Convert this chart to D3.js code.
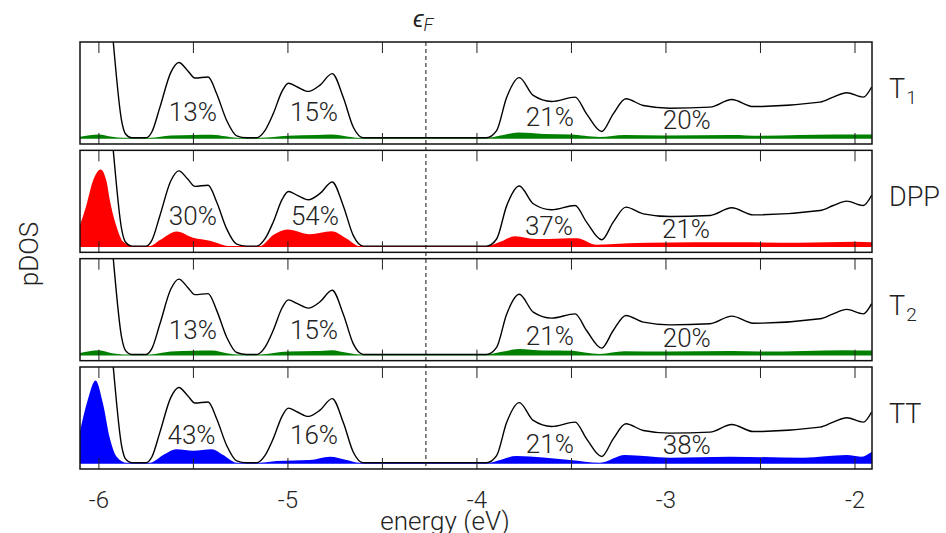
<!DOCTYPE html>
<html>
<head>
<meta charset="utf-8">
<script src="https://cdn.jsdelivr.net/npm/d3@7"></script>
<style>
  body { margin: 0; background: #fff; }
  text { font-family: Roboto, "Open Sans", sans-serif; font-weight: 300; fill: #222; }
</style>
</head>
<body>
<div id="container"></div>
<script>
const width = 946;
const height = 533;

// total DOS (same black curve in every panel)  [energy eV, value]
const totalDos = [
    [-6.10, 3.0], [-6.00, 2.5], [-5.95, 1.6], [-5.924, 1.0], [-5.88, 0.18], [-5.859, 0.04],
    [-5.827, 0.0], [-5.75, 0.0], [-5.72, 0.06], [-5.677, 0.32], [-5.62, 0.68], [-5.577, 0.786],
    [-5.53, 0.70], [-5.492, 0.624], [-5.422, 0.635], [-5.377, 0.46], [-5.324, 0.18], [-5.271, 0.02],
    [-5.219, 0.0], [-5.166, 0.0], [-5.12, 0.08], [-5.078, 0.25], [-5.03, 0.49], [-4.998, 0.57],
    [-4.95, 0.53], [-4.892, 0.484], [-4.83, 0.55], [-4.766, 0.67], [-4.707, 0.42], [-4.654, 0.11],
    [-4.601, 0.0], [-3.949, 0.0], [-3.896, 0.074], [-3.843, 0.42], [-3.776, 0.628], [-3.702, 0.442],
    [-3.605, 0.379], [-3.481, 0.424], [-3.42, 0.25], [-3.34, 0.066], [-3.279, 0.25], [-3.212, 0.407],
    [-3.12, 0.337], [-2.979, 0.309], [-2.767, 0.32], [-2.652, 0.40], [-2.538, 0.326], [-2.185, 0.372],
    [-2.115, 0.424], [-2.044, 0.47], [-1.956, 0.424], [-1.912, 0.53]
];

const pdosT1 = [
    [-6.1, 0.01], [-6.0, 0.035], [-5.93, 0.01], [-5.87, 0.0], [-5.73, 0.0], [-5.62, 0.025],
    [-5.5, 0.03], [-5.4, 0.032], [-5.33, 0.015], [-5.27, 0.0], [-5.15, 0.0], [-5.0, 0.022],
    [-4.85, 0.028], [-4.77, 0.035], [-4.68, 0.012], [-4.62, 0.0], [-3.95, 0.0], [-3.86, 0.03],
    [-3.78, 0.055], [-3.65, 0.04], [-3.5, 0.035], [-3.43, 0.02], [-3.35, 0.008], [-3.22, 0.03],
    [-3.0, 0.025], [-2.65, 0.03], [-2.5, 0.022], [-2.1, 0.035], [-1.91, 0.035]
];
const pdosDPP = [
    [-6.1, 0.22], [-6.07, 0.4], [-6.03, 0.69], [-5.991, 0.80], [-5.96, 0.68], [-5.942, 0.479],
    [-5.906, 0.2], [-5.871, 0.045], [-5.82, 0.0], [-5.73, 0.0], [-5.677, 0.0625], [-5.589, 0.153],
    [-5.501, 0.087], [-5.413, 0.056], [-5.307, 0.0], [-5.148, 0.0], [-5.078, 0.115], [-5.002, 0.174],
    [-4.884, 0.125], [-4.769, 0.156], [-4.69, 0.08], [-4.62, 0.0], [-3.95, 0.0], [-3.87, 0.05],
    [-3.8, 0.104], [-3.683, 0.073], [-3.55, 0.08], [-3.472, 0.083], [-3.367, 0.014], [-3.296, 0.02],
    [-3.1, 0.035], [-2.6, 0.04], [-2.3, 0.035], [-2.0, 0.045], [-1.91, 0.04]
];
const pdosT2 = [
    [-6.1, 0.015], [-6.0, 0.045], [-5.93, 0.012], [-5.87, 0.0], [-5.73, 0.0], [-5.62, 0.03],
    [-5.5, 0.038], [-5.4, 0.04], [-5.33, 0.015], [-5.27, 0.0], [-5.15, 0.0], [-5.0, 0.03],
    [-4.85, 0.035], [-4.77, 0.045], [-4.68, 0.015], [-4.62, 0.0], [-3.95, 0.0], [-3.86, 0.03],
    [-3.78, 0.056], [-3.65, 0.04], [-3.5, 0.038], [-3.43, 0.02], [-3.35, 0.005], [-3.22, 0.033],
    [-3.0, 0.03], [-2.65, 0.035], [-2.5, 0.03], [-2.05, 0.045], [-1.91, 0.04]
];
const pdosTT = [
    [-6.1, 0.33], [-6.06, 0.65], [-6.018, 0.86], [-5.977, 0.607], [-5.942, 0.256], [-5.906, 0.063],
    [-5.853, 0.0], [-5.73, 0.0], [-5.66, 0.08], [-5.589, 0.14], [-5.501, 0.126], [-5.404, 0.14],
    [-5.342, 0.08], [-5.271, 0.0], [-5.15, 0.0], [-5.06, 0.018], [-4.884, 0.028], [-4.778, 0.063],
    [-4.69, 0.028], [-4.62, 0.0], [-3.95, 0.0], [-3.79, 0.07], [-3.508, 0.028], [-3.349, 0.0],
    [-3.217, 0.08], [-2.979, 0.053], [-2.662, 0.063], [-2.273, 0.053], [-2.044, 0.08], [-1.97, 0.063],
    [-1.91, 0.116]
];

const fragments = ['T1', 'DPP', 'T2', 'TT'];
const fragmentColors = ['#008000', '#ff0000', '#008000', '#0000ff'];
const fragmentData = [pdosT1, pdosDPP, pdosT2, pdosTT];

// percentage labels: [energy of centre, value of baseline, text]
const pctLabels = [
    [[-5.503, 0.18, '13%'], [-4.862, 0.18, '15%'], [-3.614, 0.12, '21%'], [-2.89, 0.087, '20%']],
    [[-5.503, 0.22, '30%'], [-4.857, 0.22, '54%'], [-3.619, 0.116, '37%'], [-2.894, 0.087, '21%']],
    [[-5.503, 0.158, '13%'], [-4.862, 0.158, '15%'], [-3.614, 0.098, '21%'], [-2.89, 0.08, '20%']],
    [[-5.51, 0.2, '43%'], [-4.862, 0.2, '16%'], [-3.614, 0.105, '21%'], [-2.89, 0.088, '38%']]
];

const fermiLevel = -4.27;
const xTicks = [-6, -5.5, -5, -4.5, -4, -3.5, -3, -2.5, -2];
const xTickLabels = [-6, -5, -4, -3, -2];

const svg = d3.select('#container').append('svg')
    .attr('width', width)
    .attr('height', height);

const x = d3.scaleLinear().domain([-6.1, -1.91]).range([80, 872]);

const panelTop0 = 42;
const panelStep = 108.33;
const panelH = 102;

const defs = svg.append('defs');

fragments.forEach((name, i) => {
    const top = panelTop0 + i * panelStep;
    const y = d3.scaleLinear().domain([-0.065, 1.0]).range([top + panelH, top]);

    defs.append('clipPath').attr('id', 'clip' + i)
        .append('rect')
        .attr('x', x.range()[0]).attr('y', top)
        .attr('width', x.range()[1] - x.range()[0]).attr('height', panelH);

    const g = svg.append('g');
    const plot = g.append('g').attr('clip-path', 'url(#clip' + i + ')');

    const area = d3.area()
        .x(d => x(d[0]))
        .y0(y(0) + 1)
        .y1(d => y(d[1]))
        .curve(d3.curveMonotoneX);

    plot.append('path')
        .datum(fragmentData[i])
        .attr('d', area)
        .attr('fill', fragmentColors[i]);

    const line = d3.line()
        .x(d => x(d[0]))
        .y(d => y(d[1]))
        .curve(d3.curveMonotoneX);

    plot.append('path')
        .datum(totalDos)
        .attr('d', line)
        .attr('fill', 'none')
        .attr('stroke', '#000')
        .attr('stroke-width', 1.4);

    // ticks inside top and bottom
    g.selectAll('.tt')
        .data(xTicks)
        .join('line')
        .attr('x1', d => x(d)).attr('x2', d => x(d))
        .attr('y1', top).attr('y2', top + 11)
        .attr('stroke', '#222').attr('stroke-width', 1);
    g.selectAll('.tb')
        .data(xTicks)
        .join('line')
        .attr('x1', d => x(d)).attr('x2', d => x(d))
        .attr('y1', top + panelH).attr('y2', top + panelH - 11)
        .attr('stroke', '#222').attr('stroke-width', 1);

    g.append('rect')
        .attr('x', x.range()[0]).attr('y', top)
        .attr('width', x.range()[1] - x.range()[0]).attr('height', panelH)
        .attr('fill', 'none')
        .attr('stroke', '#111')
        .attr('stroke-width', 1.5);

    g.selectAll('.pct')
        .data(pctLabels[i])
        .join('text')
        .attr('x', d => x(d[0]))
        .attr('y', d => y(d[1]))
        .attr('text-anchor', 'middle')
        .attr('font-size', 26)
        .text(d => d[2]);

    const lab = g.append('text')
        .attr('x', 889)
        .attr('y', top + 56)
        .attr('font-size', 27);
    if (name === 'T1' || name === 'T2') {
        lab.append('tspan').text('T');
        lab.append('tspan').attr('font-size', 19).attr('dy', 6).attr('dx', 1).text(name[1]);
    } else {
        lab.text(name);
    }
});

// Fermi level
const fTop = panelTop0;
const fBottom = panelTop0 + 3 * panelStep + panelH;
svg.append('line')
    .attr('x1', x(fermiLevel)).attr('x2', x(fermiLevel))
    .attr('y1', fTop).attr('y2', fBottom)
    .attr('stroke', '#111')
    .attr('stroke-width', 1)
    .attr('stroke-dasharray', '4,3');

const ef = svg.append('text')
    .attr('x', x(fermiLevel) - 13)
    .attr('y', 27)
    .attr('font-size', 24);
ef.append('tspan').attr('font-style', 'italic').text('\u03F5');
ef.append('tspan').attr('font-style', 'italic').attr('font-size', 18).attr('dy', 4).text('F');

// x tick labels
svg.selectAll('.xl')
    .data(xTickLabels)
    .join('text')
    .attr('x', d => x(d))
    .attr('y', 508)
    .attr('text-anchor', 'middle')
    .attr('font-size', 24)
    .text(d => d);

svg.append('text')
    .attr('x', 445)
    .attr('y', 530)
    .attr('text-anchor', 'middle')
    .attr('font-size', 26)
    .text('energy (eV)');

svg.append('text')
    .attr('transform', 'translate(38,254) rotate(-90)')
    .attr('text-anchor', 'middle')
    .attr('font-size', 26)
    .text('pDOS');
</script>
</body>
</html>
